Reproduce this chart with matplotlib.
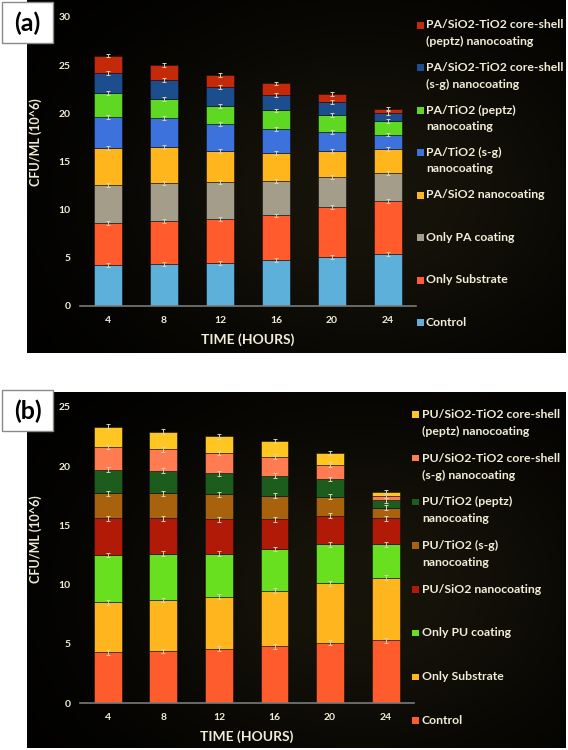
import numpy as np
import matplotlib
matplotlib.use("Agg")
import matplotlib.pyplot as plt
from matplotlib.patches import Rectangle

# ---- data ----
times = ["4", "8", "12", "16", "20", "24"]

# panel (a): PA series, segment heights (CFU/ML, 10^6)
a_labels = ["Control", "Only Substrate", "Only PA coating", "PA/SiO2 nanocoating",
            "PA/TiO2 (s-g)\nnanocoating", "PA/TiO2 (peptz)\nnanocoating",
            "PA/SiO2-TiO2 core-shell\n(s-g) nanocoating",
            "PA/SiO2-TiO2 core-shell\n(peptz) nanocoating"]
a_control = [4.3, 4.4, 4.5, 4.8, 5.1, 5.4]
a_substrate = [4.3, 4.4, 4.5, 4.6, 5.2, 5.5]
a_pa = [4.0, 4.0, 3.9, 3.6, 3.1, 2.9]
a_sio2 = [3.8, 3.7, 3.2, 2.9, 2.7, 2.5]
a_tio2_sg = [3.2, 3.0, 2.8, 2.5, 2.0, 1.5]
a_tio2_pz = [2.5, 2.0, 1.9, 1.9, 1.7, 1.4]
a_cs_sg = [2.1, 2.0, 1.9, 1.6, 1.4, 0.8]
a_cs_pz = [1.8, 1.5, 1.3, 1.2, 0.8, 0.5]
a_err = 0.2

# panel (b): PU series
b_labels = ["Control", "Only Substrate", "Only PU coating", "PU/SiO2 nanocoating",
            "PU/TiO2 (s-g)\nnanocoating", "PU/TiO2 (peptz)\nnanocoating",
            "PU/SiO2-TiO2 core-shell\n(s-g) nanocoating",
            "PU/SiO2-TiO2 core-shell\n(peptz) nanocoating"]
b_control = [4.3, 4.4, 4.6, 4.8, 5.1, 5.3]
b_substrate = [4.2, 4.3, 4.4, 4.7, 5.0, 5.3]
b_pu = [4.0, 3.9, 3.6, 3.5, 3.3, 2.8]
b_sio2 = [3.1, 3.0, 2.9, 2.5, 2.4, 2.2]
b_tio2_sg = [2.1, 2.1, 2.1, 2.0, 1.6, 0.9]
b_tio2_pz = [2.0, 1.9, 1.8, 1.7, 1.5, 0.6]
b_cs_sg = [1.9, 1.8, 1.7, 1.6, 1.2, 0.4]
b_cs_pz = [1.7, 1.5, 1.4, 1.3, 1.0, 0.3]
b_err = 0.2

a_colors = ["#5cb0da", "#ff5b2c", "#a39d8a", "#ffb51c", "#3d72dc",
            "#5fd824", "#1c4d8c", "#c42a0a"]
b_colors = ["#ff5c2e", "#ffb61e", "#68e020", "#b21a08", "#a8620e",
            "#1c5c1c", "#ff7c52", "#ffc622"]

TXT = "#f2edd6"
W, H = 568, 750
FONT = "Lato"


def fx(px):
    return px / W


def fy(py):
    return 1 - py / H


def draw_panel(fig, tag, box_top, bg, ax_px, ymax, yticks, series, labels, colors,
               err, leg_px, ylab_y):
    # black panel background with a faint warm glow
    bx0, by0, bx1, by1 = bg
    bgax = fig.add_axes([fx(bx0), fy(by1), fx(bx1 - bx0), (by1 - by0) / H])
    yy, xx = np.mgrid[0:1:200j, 0:1:300j]
    glow = np.exp(-(((xx - 0.62) / 0.45) ** 2 + ((yy - 0.55) / 0.5) ** 2))
    img = np.zeros((200, 300, 3))
    img[..., 0] = 0.09 * glow
    img[..., 1] = 0.08 * glow
    img[..., 2] = 0.04 * glow
    bgax.imshow(img, aspect="auto", extent=[0, 1, 0, 1])
    bgax.set_axis_off()

    # label box
    fig.patches.append(Rectangle((fx(2), fy(box_top + 41)), fx(51), 41 / H,
                                 transform=fig.transFigure, fc="white",
                                 ec="#8a8a8a", lw=1.0, zorder=5))
    fig.text(fx(27.5), fy(box_top + 21), tag, ha="center", va="center",
             fontsize=18, fontweight="bold", family=FONT, color="black", zorder=6)

    x0, ytop, x1, ybot = ax_px
    ax = fig.add_axes([fx(x0), fy(ybot), fx(x1 - x0), (ybot - ytop) / H])
    ax.set_facecolor("none")
    x = np.arange(len(times))
    bottom = np.zeros(len(times))
    for vals, col in zip(series, colors):
        vals = np.array(vals)
        ax.bar(x, vals, 0.5, bottom=bottom, color=col, edgecolor="#10101a",
               linewidth=0.4, zorder=2)
        ax.errorbar(x, bottom + vals, yerr=err, fmt="none", ecolor="#d8d2b4",
                    elinewidth=0.7, capsize=1.6, capthick=0.7, zorder=3)
        bottom += vals

    ax.set_xlim(-0.5, 5.5)
    ax.set_ylim(0, ymax)
    ax.set_xticks(x)
    ax.set_xticklabels(times)
    ax.set_yticks(yticks)
    for s in ["top", "right", "left"]:
        ax.spines[s].set_visible(False)
    ax.spines["bottom"].set_color("#7a7a7a")
    ax.spines["bottom"].set_linewidth(1.2)
    ax.tick_params(length=0, colors=TXT, labelsize=7.5, pad=7)
    for t in ax.get_xticklabels() + ax.get_yticklabels():
        t.set_fontweight("bold")
        t.set_family(FONT)
    ax.set_xlabel("TIME (HOURS)", color=TXT, fontsize=10, fontweight="bold",
                  family=FONT, labelpad=6)
    ax.set_ylabel("CFU/ML (10^6)", color=TXT, fontsize=9, fontweight="bold",
                  family=FONT)
    ax.yaxis.set_label_coords((42 - x0) / (x1 - x0), ylab_y)

    # legend, top entry = last series
    mx, tx, ly0, step, lstep = leg_px
    for i, (lab, col) in enumerate(zip(labels[::-1], colors[::-1])):
        yc = ly0 + i * step
        fig.patches.append(Rectangle((fx(mx), fy(yc + 3.5)), fx(6.5), 6.5 / H,
                                     transform=fig.transFigure, fc=col, ec="none"))
        for j, line in enumerate(lab.split("\n")):
            fig.text(fx(tx), fy(yc + j * lstep), line, ha="left", va="center",
                     color=TXT, fontsize=8.8, fontweight="bold", family=FONT)
    return ax


fig = plt.figure(figsize=(W / 100, H / 100), dpi=100, facecolor="white")

draw_panel(fig, "(a)", 2, (27, 0, 566, 353), (80, 17, 416, 306), 30,
           [0, 5, 10, 15, 20, 25, 30],
           [a_control, a_substrate, a_pa, a_sio2, a_tio2_sg, a_tio2_pz, a_cs_sg, a_cs_pz],
           a_labels, a_colors, a_err, (417, 426, 25, 42.5, 16.5), 0.566)

draw_panel(fig, "(b)", 390, (27, 392, 566, 748), (80, 406.7, 413.5, 703.3), 25,
           [0, 5, 10, 15, 20, 25],
           [b_control, b_substrate, b_pu, b_sio2, b_tio2_sg, b_tio2_pz, b_cs_sg, b_cs_pz],
           b_labels, b_colors, b_err, (412, 422, 414.3, 43.7, 17.3), 0.554)

fig.savefig("out.png", dpi=100, facecolor="white")
